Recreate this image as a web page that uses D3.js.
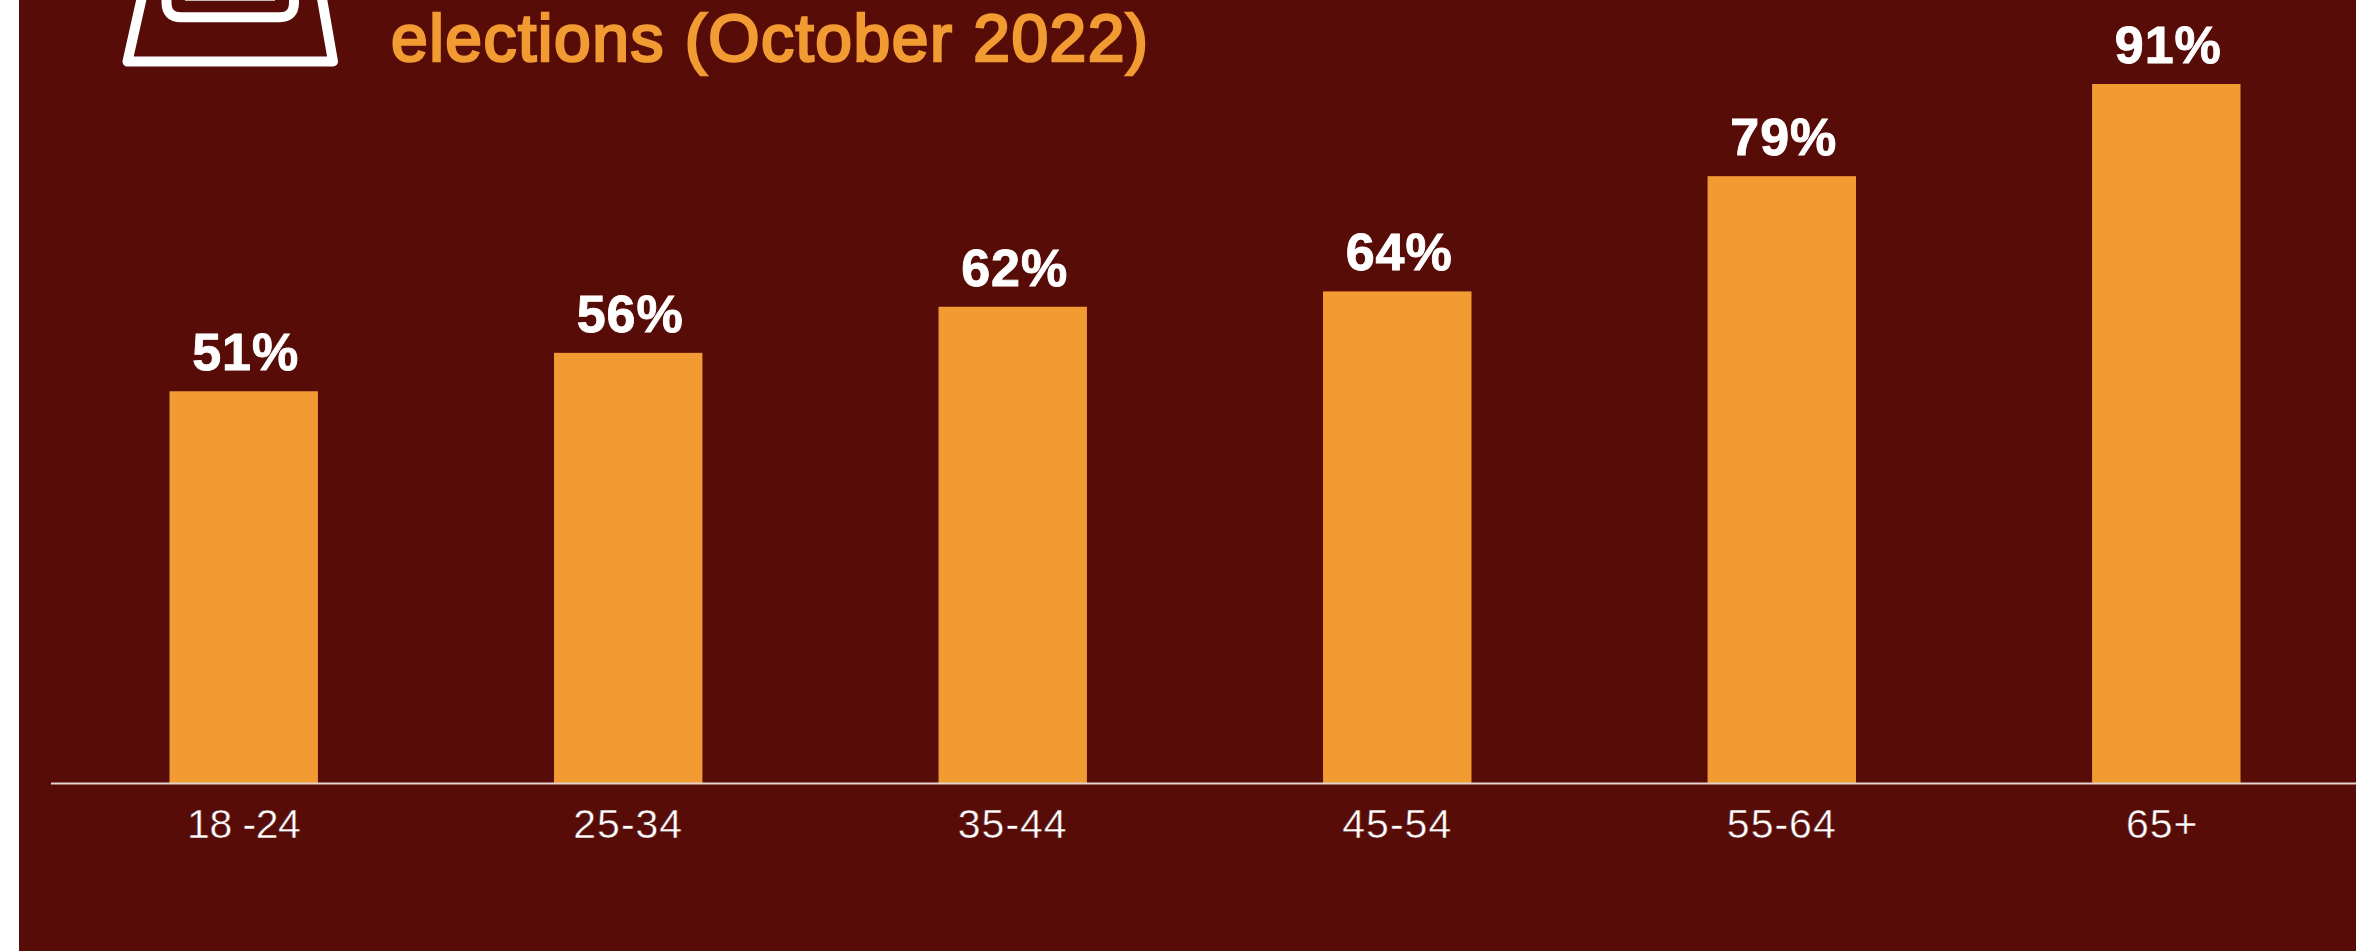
<!DOCTYPE html>
<html>
<head>
<meta charset="utf-8">
<script src="https://cdn.jsdelivr.net/npm/d3@7"></script>
<style>
  html, body { margin: 0; padding: 0; background: #fff; overflow: hidden; }
  svg { display: block; font-family: "Liberation Sans", Arial, sans-serif; }
</style>
</head>
<body>
<svg id="chart" width="2356" height="951"></svg>
<script>
// Turnout by age group
const ageGroups = ["18 -24", "25-34", "35-44", "45-54", "55-64", "65+"];
const turnout = [51, 56, 62, 64, 79, 91];
const titleLine = "elections (October 2022)";

const maroon = "#570c08";
const amber = "#f19b32";

const svg = d3.select("#chart");
svg.append("rect").attr("x", 19).attr("y", 0).attr("width", 2337).attr("height", 951).attr("fill", maroon);

const x = d3.scaleBand().domain(ageGroups).range([169.5, 2240.5]).paddingInner(0.614).paddingOuter(0);
const y = d3.scaleLinear().domain([0, 91]).range([783, 84]);

// Bars
svg.append("g").selectAll("rect").data(turnout).join("rect")
  .attr("x", (d, i) => x(ageGroups[i]))
  .attr("y", d => y(d))
  .attr("width", x.bandwidth())
  .attr("height", d => y(0) - y(d))
  .attr("fill", amber);

// Value labels above the bars
svg.append("g").selectAll("text").data(turnout).join("text")
  .attr("x", (d, i) => x(ageGroups[i]) + x.bandwidth() / 2 + 2)
  .attr("y", d => y(d) - 21)
  .attr("text-anchor", "middle")
  .attr("font-size", 52)
  .attr("font-weight", 700)
  .attr("letter-spacing", 1)
  .attr("fill", "#fff")
  .attr("stroke", "#fff")
  .attr("stroke-width", 0.9)
  .text(d => d + "%");

// Category axis with a baseline running off the right edge
const axis = svg.append("g").attr("transform", `translate(0,${y(0)})`)
  .call(d3.axisBottom(x).tickSize(0).tickPadding(26));
axis.select(".domain").remove();
axis.selectAll("text")
  .attr("font-size", 41)
  .attr("font-family", "Liberation Sans")
  .attr("fill", "#fff")
  .attr("stroke", maroon)
  .attr("stroke-width", 0.5)
  .attr("letter-spacing", d => d === "18 -24" ? -0.5 : 1)
  .attr("dx", d => d === "65+" ? -4 : 0);
svg.append("line")
  .attr("x1", 51).attr("x2", 2356).attr("y1", y(0) + 0.5).attr("y2", y(0) + 0.5)
  .attr("stroke", "#e6d3d0").attr("stroke-width", 2);

// Ballot box icon
const icon = svg.append("g").attr("fill", "none").attr("stroke", "#fff")
  .attr("stroke-width", 10).attr("stroke-linejoin", "round").attr("stroke-linecap", "round");
icon.append("path").attr("d", "M143.5,-10 L127.5,61.5 L333,61.5 L320.5,-10");
icon.append("path").attr("d", "M166.5,-10 V2 Q166.5,17.3 181,17.3 H280 Q294,17.3 294,2 V-10");
svg.append("rect").attr("x", 185).attr("y", 0).attr("width", 90).attr("height", 1).attr("fill", "#c9b9b7");

// Title
svg.append("text")
  .attr("x", 391).attr("y", 61)
  .attr("font-size", 66)
  .attr("font-weight", 400)
  .attr("fill", amber)
  .attr("stroke", amber)
  .attr("stroke-width", 2.6)
  .attr("textLength", 757)
  .attr("lengthAdjust", "spacing")
  .text(titleLine);
</script>
</body>
</html>
